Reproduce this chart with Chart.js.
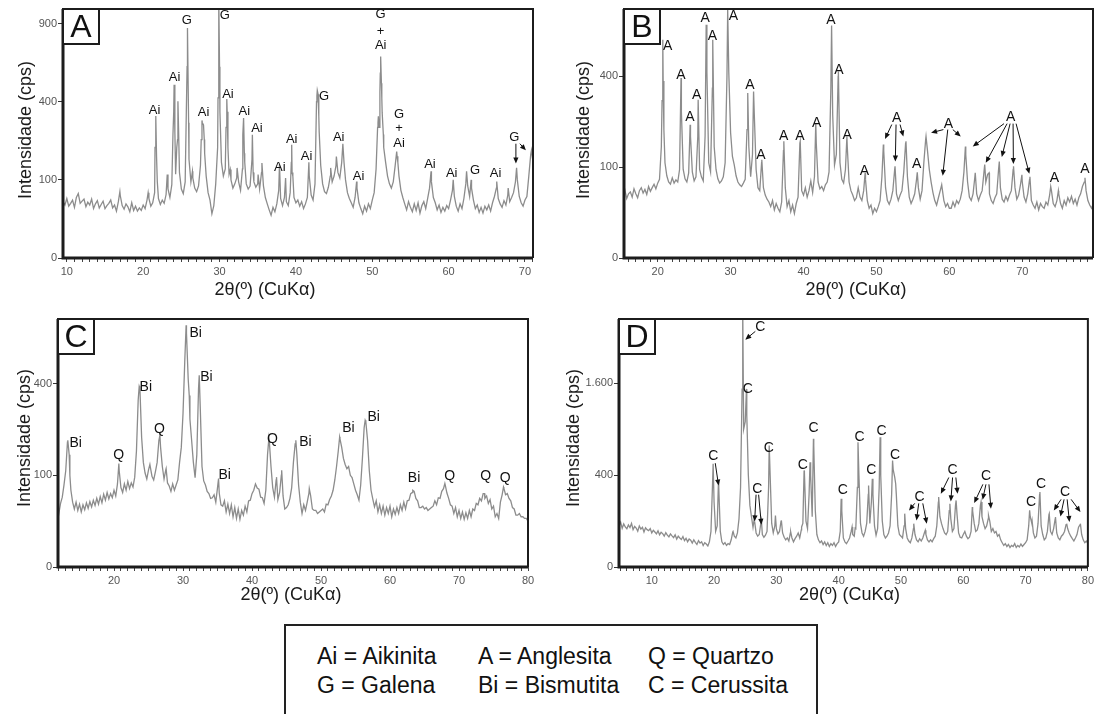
<!DOCTYPE html>
<html lang="pt-BR">
<head>
<meta charset="utf-8">
<title>Difratogramas de raios X</title>
<script src="https://cdn.jsdelivr.net/npm/chart.js@4"></script>
<style>
  body { margin: 0; background: #fff; width: 1097px; height: 714px; overflow: hidden; position: relative;
         font-family: "Liberation Sans", Arial, sans-serif; }
  canvas { position: absolute; }
  #legenda { position: absolute; left: 284px; top: 624px; width: 530px; height: 110px; border: 2px solid #222; }
  .item { position: absolute; font-size: 23px; line-height: 23px; color: #111; white-space: nowrap; }
</style>
</head>
<body>
<canvas id="graficoA" width="545" height="305" style="left:0;top:0"></canvas>
<canvas id="graficoB" width="552" height="305" style="left:545px;top:0"></canvas>
<canvas id="graficoC" width="545" height="305" style="left:0;top:310px"></canvas>
<canvas id="graficoD" width="552" height="305" style="left:545px;top:310px"></canvas>

<div id="legenda"></div>
<span class="item" style="left:317px;top:645px">Ai = Aikinita</span>
<span class="item" style="left:478px;top:645px">A = Anglesita</span>
<span class="item" style="left:648px;top:645px">Q = Quartzo</span>
<span class="item" style="left:317px;top:674px">G = Galena</span>
<span class="item" style="left:478px;top:674px">Bi = Bismutita</span>
<span class="item" style="left:648px;top:674px">C = Cerussita</span>

<script>
// Passo angular (2θ) das leituras do difratômetro
const PASSO = 0.25;

// ---- Amostra A : aikinita e galena ----
const inicioA = 9.5;
const tracoA = [
  52, 46, 58, 44, 49, 55, 42, 60, 68, 49, 53, 57, 43, 51, 46, 57, 40, 48, 54, 41,
  47, 53, 40, 45, 49, 55, 41, 46, 36, 52, 64, 45, 39, 48, 43, 35, 50, 37, 44, 36,
  41, 37, 46, 40, 55, 58, 44, 50, 70, 170, 58, 47, 55, 49, 66, 78, 60, 88, 350, 115,
  230, 120, 78, 68, 95, 600, 160, 95, 105, 80, 72, 85, 140, 300, 230, 110, 70, 55, 32, 45,
  90, 200, 600, 150, 110, 130, 350, 115, 100, 80, 90, 105, 95, 75, 130, 180, 90, 78, 85, 160,
  95, 82, 90, 78, 120, 85, 60, 48, 38, 30, 42, 35, 48, 75, 58, 45, 60, 52, 45, 70,
  120, 60, 50, 55, 44, 52, 40, 48, 60, 110, 65, 55, 90, 430, 330, 140, 90, 72, 68, 82,
  110, 95, 110, 140, 120, 105, 150, 170, 100, 70, 58, 50, 42, 60, 80, 50, 40, 32, 44, 36,
  48, 40, 55, 70, 130, 300, 450, 420, 200, 150, 110, 90, 80, 95, 140, 170, 110, 75, 60, 48,
  38, 52, 42, 35, 48, 37, 50, 33, 45, 52, 40, 58, 80, 95, 60, 50, 38, 46, 34, 42,
  36, 45, 40, 55, 75, 62, 44, 36, 48, 40, 58, 90, 85, 62, 80, 55, 40, 46, 34, 42,
  33, 44, 38, 46, 36, 50, 62, 80, 58, 48, 42, 54, 46, 65, 52, 60, 70, 95, 100, 62,
  50, 44, 55, 62, 110, 175, 160
];
const picosA = [
  [16.95, 72], [20.65, 70], [21.55, 200], [21.65, 330], [21.85, 95], [23.15, 114],
  [23.9, 250], [24.05, 492], [24.15, 260], [24.4, 200], [24.55, 402], [24.65, 250],
  [25.65, 350], [25.8, 867], [25.95, 300], [26.45, 123], [27.6, 230], [27.7, 310], [27.9, 290], [28.05, 180],
  [29.8, 420], [29.9, 1100], [30.05, 350], [30.85, 280], [30.95, 414], [31.1, 200], [31.4, 128], [32.3, 133],
  [33.05, 250], [33.15, 321], [33.3, 150], [34.3, 249], [34.4, 120], [35.05, 114], [35.55, 148],
  [37.85, 143], [38.65, 105], [39.4, 150], [39.45, 210], [39.6, 110], [41.7, 150],
  [42.7, 400], [42.8, 460], [42.9, 440], [43.05, 260], [44.55, 133], [45.3, 169], [46.15, 214], [46.3, 150],
  [47.95, 96], [50.7, 280], [50.8, 329], [50.9, 280], [51.05, 560], [51.1, 666], [51.2, 500], [51.3, 345], [51.45, 250],
  [53.2, 186], [53.35, 150], [57.7, 123], [60.6, 100], [62.35, 123], [62.95, 100], [66.3, 96], [67.8, 80],
  [68.9, 133], [70.85, 190]
];
const rotulosA = [
  [21.5, 357, 'Ai'], [24.1, 537, 'Ai'], [25.7, 925, 'G'], [30.7, 962, 'G'], [27.9, 345, 'Ai'], [31.1, 441, 'Ai'],
  [33.25, 352, 'Ai'], [34.9, 277, 'Ai'], [37.9, 135, 'Ai'], [39.45, 232, 'Ai'], [41.4, 169, 'Ai'], [43.7, 428, 'G'],
  [45.6, 238, 'Ai'], [48.2, 109, 'Ai'], [51.1, 970, 'G'], [51.1, 842, '+'], [51.1, 739, 'Ai'],
  [53.5, 340, 'G'], [53.5, 277, '+'], [53.5, 217, 'Ai'], [57.55, 143, 'Ai'], [60.4, 118, 'Ai'],
  [63.45, 125, 'G'], [66.15, 117, 'Ai'], [68.6, 238, 'G']
];
const setasA = [[68.81, 214, 68.81, 146], [69.33, 214, 70.12, 190]];
const ticksYA = [0, 100, 400, 900];

// ---- Amostra B : anglesita ----
const inicioB = 15.25;
const tracoB = [
  48, 56, 43, 50, 53, 45, 58, 50, 44, 55, 60, 51, 57, 49, 62, 54, 60, 66, 58, 68,
  75, 150, 380, 110, 82, 70, 66, 78, 68, 74, 70, 95, 260, 95, 76, 70, 88, 180, 90, 72,
  80, 180, 95, 80, 72, 180, 420, 110, 90, 350, 150, 95, 76, 68, 72, 80, 110, 400, 420, 190,
  125, 105, 82, 70, 65, 62, 68, 75, 200, 150, 80, 130, 250, 95, 60, 55, 110, 60, 48, 42,
  38, 32, 40, 28, 36, 30, 26, 38, 140, 60, 32, 40, 26, 34, 24, 36, 45, 160, 55, 48,
  60, 45, 55, 72, 52, 80, 160, 70, 58, 62, 55, 65, 70, 90, 350, 250, 105, 130, 400, 110,
  75, 68, 95, 150, 70, 55, 48, 40, 44, 60, 45, 40, 55, 75, 40, 30, 34, 24, 30, 26,
  32, 40, 80, 140, 60, 40, 35, 42, 55, 95, 50, 40, 48, 55, 90, 160, 80, 45, 36, 42,
  50, 75, 60, 42, 55, 110, 170, 140, 95, 70, 52, 40, 34, 44, 55, 60, 40, 32, 36, 30,
  30, 38, 32, 40, 36, 42, 55, 90, 130, 70, 45, 40, 50, 80, 50, 40, 48, 55, 90, 70,
  85, 50, 40, 36, 44, 50, 95, 60, 42, 38, 46, 40, 48, 55, 95, 60, 42, 48, 65, 70,
  45, 38, 50, 75, 40, 34, 30, 38, 28, 36, 32, 30, 38, 34, 48, 55, 36, 32, 40, 50,
  36, 30, 40, 34, 44, 38, 46, 36, 42, 34, 44, 50, 62, 70, 55, 40, 34, 30, 36
];
const picosB = [
  [20.6, 300], [20.7, 578], [20.85, 200], [23.2, 393], [24.45, 215], [25.55, 304], [26.65, 660],
  [27.55, 578], [29.6, 748], [32.35, 330], [33.15, 336], [34.28, 117], [37.3, 165], [39.55, 165],
  [41.68, 221], [43.85, 655], [44.78, 422], [45.95, 179], [48.45, 88], [50.95, 156], [52.55, 102],
  [54.05, 165], [55.6, 89], [56.8, 179], [58.95, 65], [62.2, 151], [63.55, 88], [64.85, 106],
  [65.45, 88], [66.85, 113], [68.8, 102], [69.95, 84], [71.05, 80], [73.9, 62], [74.95, 55], [78.6, 78]
];
const rotulosB = [
  [21.37, 543, 'A'], [23.2, 407, 'A'], [24.43, 241, 'A'], [25.35, 323, 'A'], [26.5, 699, 'A'], [27.5, 599, 'A'],
  [30.37, 708, 'A'], [32.66, 364, 'A'], [34.17, 129, 'A'], [37.28, 181, 'A'], [39.52, 181, 'A'], [41.81, 219, 'A'],
  [43.77, 685, 'A'], [44.87, 430, 'A'], [46.0, 184, 'A'], [48.34, 91, 'A'], [52.78, 238, 'A'], [55.53, 106, 'A'],
  [59.86, 216, 'A'], [68.42, 241, 'A'], [74.4, 78, 'A'], [78.6, 95, 'A']
];
const setasB = [
  [52.1, 216, 51.18, 172], [52.69, 216, 52.59, 113], [53.24, 216, 53.69, 179],
  [59.18, 200, 57.49, 190], [59.78, 200, 59.09, 82], [60.47, 200, 61.56, 179],
  [67.5, 219, 63.21, 151], [67.92, 219, 64.99, 110], [68.33, 219, 67.19, 124], [68.74, 219, 68.78, 107],
  [69.15, 219, 70.97, 86]
];
const ticksYB = [0, 100, 400];

// ---- Amostra C : bismutita e quartzo ----
const inicioC = 11.75;
const tracoC = [
  40, 34, 48, 58, 80, 110, 185, 150, 70, 50, 40, 50, 38, 47, 36, 46, 39, 49, 41, 51,
  43, 53, 45, 56, 47, 59, 49, 63, 53, 66, 55, 64, 57, 70, 60, 82, 110, 75, 66, 82,
  70, 87, 73, 84, 76, 96, 160, 330, 380, 200, 130, 105, 92, 112, 120, 98, 90, 108, 130, 190,
  170, 120, 92, 112, 84, 78, 68, 82, 70, 80, 90, 130, 170, 280, 500, 650, 420, 260, 190, 130,
  95, 150, 380, 300, 120, 88, 80, 68, 64, 56, 57, 62, 50, 75, 65, 46, 44, 52, 36, 47,
  34, 46, 30, 42, 28, 40, 27, 38, 32, 44, 36, 52, 53, 64, 70, 82, 74, 72, 58, 57,
  48, 70, 150, 190, 120, 75, 58, 90, 54, 66, 100, 60, 40, 42, 46, 56, 75, 130, 180, 150,
  80, 50, 34, 46, 38, 50, 65, 60, 40, 38, 38, 34, 36, 38, 40, 36, 47, 46, 54, 60,
  70, 90, 120, 160, 195, 170, 140, 125, 115, 120, 100, 95, 82, 70, 62, 53, 80, 140, 230, 250,
  190, 110, 70, 55, 43, 52, 36, 46, 34, 44, 32, 42, 34, 44, 30, 40, 33, 42, 34, 46,
  38, 50, 40, 52, 53, 64, 66, 68, 56, 52, 42, 42, 44, 40, 42, 38, 40, 42, 44, 52,
  46, 57, 56, 68, 73, 80, 65, 56, 46, 44, 34, 42, 30, 38, 28, 36, 27, 35, 28, 38,
  30, 40, 38, 48, 46, 56, 52, 64, 56, 60, 48, 54, 40, 44, 30, 34, 28, 50, 62, 74,
  62, 64, 56, 52, 42, 40, 32, 32, 34, 30, 30, 28, 28, 25
];
const picosC = [
  [13.3, 191], [13.6, 100], [20.7, 127], [23.65, 388], [25.2, 125], [26.65, 206], [27.55, 115],
  [30.45, 695], [30.9, 350], [32.35, 437], [35.15, 93], [42.45, 198], [43.55, 96], [44.3, 111],
  [46.35, 191], [48.3, 73], [52.7, 201], [56.4, 256], [63.3, 70], [67.95, 83], [73.7, 64], [76.45, 76]
];
const rotulosC = [
  [14.45, 181, 'Bi'], [20.68, 150, 'Q'], [24.6, 385, 'Bi'], [26.6, 225, 'Q'], [31.84, 648, 'Bi'], [33.4, 429, 'Bi'],
  [36.04, 100, 'Bi'], [42.96, 193, 'Q'], [47.74, 184, 'Bi'], [53.97, 228, 'Bi'], [57.64, 268, 'Bi'],
  [63.48, 93, 'Bi'], [68.65, 99, 'Q'], [73.87, 99, 'Q'], [76.7, 94, 'Q']
];
const setasC = [];
const ticksYC = [0, 100, 400];

// ---- Amostra D : cerussita ----
const inicioD = 4.75;
const tracoD = [
  82, 95, 71, 88, 76, 69, 84, 74, 90, 66, 78, 72, 61, 80, 68, 75, 58, 73, 66, 63,
  70, 55, 64, 58, 52, 62, 49, 57, 53, 45, 56, 48, 43, 52, 46, 41, 49, 37, 45, 40,
  36, 44, 33, 39, 30, 37, 34, 27, 35, 29, 24, 33, 27, 30, 22, 28, 25, 21, 30, 60,
  320, 200, 60, 80, 300, 60, 30, 24, 28, 22, 26, 24, 35, 58, 45, 40, 55, 110, 300, 1500,
  900, 1000, 1100, 400, 180, 120, 75, 100, 55, 45, 50, 90, 50, 42, 48, 60, 300, 400, 90, 55,
  80, 70, 52, 60, 100, 55, 42, 35, 40, 32, 55, 40, 30, 38, 45, 55, 40, 65, 90, 420,
  100, 70, 250, 400, 120, 700, 150, 50, 35, 28, 32, 24, 30, 22, 28, 20, 26, 22, 28, 20,
  26, 30, 60, 150, 40, 30, 26, 32, 40, 60, 50, 45, 70, 300, 400, 90, 55, 45, 60, 90,
  250, 90, 200, 250, 80, 48, 70, 300, 400, 100, 50, 40, 45, 55, 80, 250, 450, 380, 250, 80,
  50, 45, 40, 80, 70, 40, 32, 28, 40, 70, 50, 35, 30, 38, 32, 40, 55, 50, 35, 30,
  35, 30, 38, 45, 80, 200, 120, 90, 70, 55, 50, 60, 150, 110, 60, 70, 180, 130, 55, 42,
  40, 50, 60, 45, 38, 42, 60, 150, 90, 60, 65, 90, 180, 120, 90, 70, 80, 110, 100, 60,
  70, 55, 60, 45, 50, 35, 28, 22, 26, 20, 24, 18, 22, 20, 26, 18, 22, 19, 25, 20,
  24, 28, 35, 80, 120, 90, 55, 40, 45, 90, 250, 80, 50, 35, 40, 60, 130, 60, 50, 70,
  110, 55, 40, 35, 45, 50, 60, 85, 70, 55, 45, 38, 32, 40, 50, 75, 85, 50, 35, 28, 32, 26
];
const picosD = [
  [19.85, 505], [20.7, 341], [23.05, 60], [24.6, 3200], [25.2, 1504], [26.45, 110], [27.6, 103],
  [28.85, 700], [29.85, 126], [30.8, 103], [32.3, 58], [34.05, 76], [34.45, 442], [35.4, 521],
  [35.95, 779], [40.4, 221], [42.15, 76], [42.65, 72], [43.1, 738], [44.8, 315], [45.4, 369],
  [46.65, 799], [48.65, 538], [49.15, 329], [50.6, 135], [52.05, 89], [53.9, 64], [56.05, 232],
  [57.85, 190], [58.85, 210], [61.45, 170], [62.85, 200], [64.05, 126], [70.65, 152], [71.05, 100],
  [72.3, 266], [73.8, 135], [74.8, 118], [76.6, 89], [78.8, 89]
];
const rotulosD = [
  [27.43, 2722, 'C'], [25.4, 1504, 'C'], [19.87, 579, 'C'], [26.95, 285, 'C'], [28.77, 669, 'C'],
  [34.24, 495, 'C'], [35.96, 913, 'C'], [40.67, 278, 'C'], [43.36, 799, 'C'], [45.24, 448, 'C'],
  [46.9, 870, 'C'], [49.04, 590, 'C'], [53.0, 232, 'C'], [58.28, 448, 'C'], [63.64, 389, 'C'],
  [70.88, 200, 'C'], [72.49, 323, 'C'], [76.35, 266, 'C']
];
const setasD = [
  [26.62, 2632, 25.01, 2451], [20.19, 511, 20.72, 315], [26.74, 248, 26.51, 99], [27.15, 248, 27.59, 85],
  [52.21, 192, 51.29, 152], [52.85, 192, 52.49, 103], [53.5, 192, 54.14, 89],
  [57.68, 380, 56.4, 255], [58.28, 380, 58.0, 204], [58.81, 380, 59.08, 255],
  [63.15, 324, 61.75, 194], [63.64, 324, 63.1, 215], [64.12, 324, 64.44, 161],
  [75.7, 217, 74.53, 152], [76.18, 217, 75.59, 121], [76.67, 217, 77.04, 96], [77.31, 217, 78.81, 143]
];
const ticksYD = [0, 400, 1600];

const FONTE = '"Liberation Sans", Arial, sans-serif';
Chart.defaults.font.family = FONTE;

// separador de milhar com ponto (1.600)
function milhar(v) {
  return String(v).replace(/\B(?=(\d{3})+(?!\d))/g, '.');
}

// junta as leituras regulares com os topos dos picos, em ordem de 2θ
function montarPontos(inicio, traco, picos) {
  const pontos = traco.map((v, i) => ({ x: inicio + i * PASSO, y: Math.sqrt(v) }));
  picos.forEach(([x, v]) => pontos.push({ x: x, y: Math.sqrt(v) }));
  return pontos.sort((a, b) => a.x - b.x);
}

// moldura, letra da amostra, títulos dos eixos e identificação dos picos
function desenhosDoPainel(p) {
  return {
    id: 'desenhosDoPainel',
    afterDatasetsDraw(chart) {
      const { ctx, chartArea: a } = chart;
      ctx.save();
      ctx.strokeStyle = '#1c1c1c';
      ctx.lineWidth = 2;
      ctx.beginPath();
      ctx.moveTo(a.left, a.top); ctx.lineTo(a.right, a.top); ctx.lineTo(a.right, a.bottom);
      ctx.stroke();
      ctx.lineWidth = 3;
      ctx.beginPath();
      ctx.moveTo(a.left, a.top); ctx.lineTo(a.left, a.bottom); ctx.lineTo(a.right, a.bottom);
      ctx.stroke();
      ctx.restore();
    },
    afterDraw(chart) {
      const { ctx, chartArea: a, scales } = chart;
      const xs = scales.x, ys = scales.y;
      ctx.save();

      // caixa com a letra
      ctx.fillStyle = '#fff';
      ctx.fillRect(a.left, a.top, 36, 35);
      ctx.strokeStyle = '#1c1c1c';
      ctx.lineWidth = 2;
      ctx.strokeRect(a.left, a.top, 36, 35);
      ctx.fillStyle = '#111';
      ctx.font = '32px ' + FONTE;
      ctx.textAlign = 'center';
      ctx.textBaseline = 'middle';
      ctx.fillText(p.letra, a.left + 18, a.top + 19);

      // títulos dos eixos
      ctx.font = '18px ' + FONTE;
      ctx.fillStyle = '#1a1a1a';
      ctx.fillText('2θ(º) (CuKα)', p.tituloX[0], p.tituloX[1]);
      ctx.save();
      ctx.translate(p.tituloY[0], p.tituloY[1]);
      ctx.rotate(-Math.PI / 2);
      ctx.fillText('Intensidade (cps)', 0, 0);
      ctx.restore();

      // rótulos dos picos
      ctx.font = p.fonteRotulo + 'px ' + FONTE;
      ctx.fillStyle = '#111';
      p.rotulos.forEach(([x, v, t]) => {
        ctx.fillText(t, xs.getPixelForValue(x), ys.getPixelForValue(Math.sqrt(v)));
      });

      // setas
      ctx.strokeStyle = '#111';
      ctx.lineWidth = 1;
      p.setas.forEach(([x1, v1, x2, v2]) => {
        const ax = xs.getPixelForValue(x1), ay = ys.getPixelForValue(Math.sqrt(v1));
        const bx = xs.getPixelForValue(x2), by = ys.getPixelForValue(Math.sqrt(v2));
        const ang = Math.atan2(by - ay, bx - ax);
        ctx.beginPath();
        ctx.moveTo(ax, ay);
        ctx.lineTo(bx - 4 * Math.cos(ang), by - 4 * Math.sin(ang));
        ctx.stroke();
        ctx.beginPath();
        ctx.moveTo(bx, by);
        ctx.lineTo(bx - 6 * Math.cos(ang) + 2.6 * Math.sin(ang), by - 6 * Math.sin(ang) - 2.6 * Math.cos(ang));
        ctx.lineTo(bx - 6 * Math.cos(ang) - 2.6 * Math.sin(ang), by - 6 * Math.sin(ang) + 2.6 * Math.cos(ang));
        ctx.closePath();
        ctx.fill();
      });
      ctx.restore();
    }
  };
}

function criarPainel(p) {
  return new Chart(document.getElementById(p.id), {
    type: 'line',
    data: {
      datasets: [{
        data: montarPontos(p.inicio, p.traco, p.picos),
        borderColor: '#8c8c8c',
        borderWidth: 1.3,
        pointRadius: 0,
        tension: 0,
        fill: false
      }]
    },
    options: {
      responsive: false,
      animation: false,
      devicePixelRatio: 1,
      layout: { padding: { left: 0, top: 9, right: p.direita, bottom: 0 } },
      plugins: { legend: { display: false }, tooltip: { enabled: false } },
      scales: {
        x: {
          type: 'linear',
          min: p.xMin,
          max: p.xMax,
          afterBuildTicks: (s) => {
            const t = [];
            for (let v = Math.ceil(p.xMin); v <= p.xMax; v++) t.push({ value: v });
            s.ticks = t;
          },
          afterFit: (s) => { s.height = p.alturaX; },
          border: { display: false },
          grid: { drawOnChartArea: false, tickLength: 4, tickColor: '#444', tickWidth: 1 },
          ticks: {
            autoSkip: false, maxRotation: 0, minRotation: 0, padding: 3,
            color: '#555', font: { size: 11 },
            callback: (v) => (v % 10 === 0 ? v : '')
          }
        },
        y: {
          type: 'linear',
          min: 0,
          max: Math.sqrt(p.yMax),
          afterBuildTicks: (s) => { s.ticks = p.ticksY.map(v => ({ value: Math.sqrt(v) })); },
          afterFit: (s) => { s.width = p.larguraY; },
          border: { display: false },
          grid: { drawOnChartArea: false, tickLength: 5, tickColor: '#333', tickWidth: 1 },
          ticks: {
            padding: 1, color: '#555', font: { size: 11 },
            callback: (v) => milhar(Math.round(v * v))
          }
        }
      }
    },
    plugins: [desenhosDoPainel(p)]
  });
}

criarPainel({
  id: 'graficoA', letra: 'A', inicio: inicioA, traco: tracoA, picos: picosA,
  rotulos: rotulosA, setas: setasA, ticksY: ticksYA,
  xMin: 9.5, xMax: 71.05, yMax: 1016,
  larguraY: 63, direita: 12, alturaX: 47,
  tituloX: [265, 290], tituloY: [26.5, 130], fonteRotulo: 13
});
criarPainel({
  id: 'graficoB', letra: 'B', inicio: inicioB, traco: tracoB, picos: picosB,
  rotulos: rotulosB, setas: setasB, ticksY: ticksYB,
  xMin: 15.38, xMax: 79.7, yMax: 752,
  larguraY: 79, direita: 4, alturaX: 47,
  tituloX: [311, 290], tituloY: [39, 130], fonteRotulo: 14
});
criarPainel({
  id: 'graficoC', letra: 'C', inicio: inicioC, traco: tracoC, picos: picosC,
  rotulos: rotulosC, setas: setasC, ticksY: ticksYC,
  xMin: 11.88, xMax: 80, yMax: 731,
  larguraY: 58, direita: 17, alturaX: 48,
  tituloX: [291, 285], tituloY: [25.5, 128], fonteRotulo: 14
});
criarPainel({
  id: 'graficoD', letra: 'D', inicio: inicioD, traco: tracoD, picos: picosD,
  rotulos: rotulosD, setas: setasD, ticksY: ticksYD,
  xMin: 4.74, xMax: 80, yMax: 2916,
  larguraY: 74, direita: 9, alturaX: 48,
  tituloX: [304.5, 285], tituloY: [29.5, 128], fonteRotulo: 14
});
</script>
</body>
</html>
